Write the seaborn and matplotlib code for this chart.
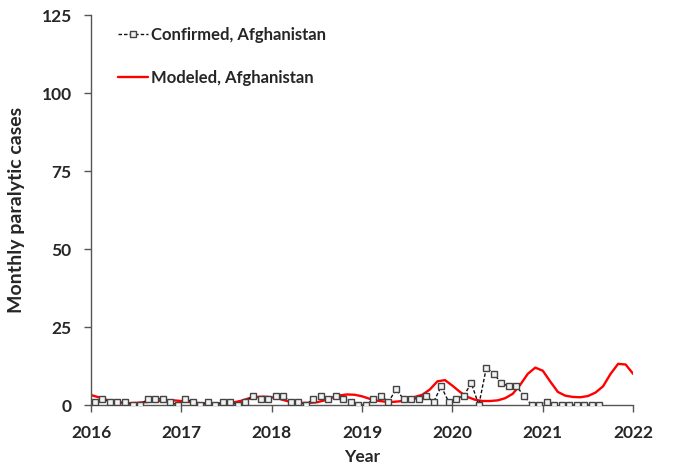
import numpy as np
import pandas as pd
import matplotlib
matplotlib.use("Agg")
import matplotlib.pyplot as plt
import seaborn as sns

# Confirmed monthly paralytic cases, Jan 2016 – Aug 2021
confirmed_2016 = [1, 2, 1, 1, 1, 0, 0, 2, 2, 2, 1, 0]
confirmed_2017 = [2, 1, 0, 1, 0, 1, 1, 0, 1, 3, 2, 2]
confirmed_2018 = [3, 3, 1, 1, 0, 2, 3, 2, 3, 2, 1, 0]
confirmed_2019 = [0, 2, 3, 1, 5, 2, 2, 2, 3, 1, 6, 1]
confirmed_2020 = [2, 3, 7, 0, 12, 10, 7, 6, 6, 3, 0, 0]
confirmed_2021 = [1, 0, 0, 0, 0, 0, 0, 0]

# Modeled monthly paralytic cases, Jan 2016 – Jan 2022
modeled = [
    3.2, 2.5, 1.7, 1.1, 0.7, 0.6, 0.7, 0.9, 1.1, 1.3, 1.5, 1.5,
    1.3, 1.0, 0.7, 0.5, 0.5, 0.5, 0.6, 0.9, 1.4, 2.2, 2.6, 2.7,
    2.5, 2.0, 1.3, 0.9, 0.7, 0.7, 0.9, 1.5, 2.4, 3.1, 3.4, 3.3,
    2.8, 2.0, 1.4, 1.1, 1.0, 1.2, 1.8, 2.6, 3.3, 5.0, 7.6, 8.0,
    6.2, 4.2, 2.6, 1.7, 1.3, 1.3, 1.5, 2.2, 3.6, 6.5, 10.0, 12.0,
    11.0, 7.5, 4.2, 3.0, 2.6, 2.5, 2.9, 4.0, 6.0, 10.0, 13.2, 13.0,
    10.0,
]

year_ticks = [2016, 2017, 2018, 2019, 2020, 2021, 2022]
case_ticks = [0, 25, 50, 75, 100, 125]

confirmed = (confirmed_2016 + confirmed_2017 + confirmed_2018 +
             confirmed_2019 + confirmed_2020 + confirmed_2021)
conf_df = pd.DataFrame({
    "year": 2016 + (np.arange(len(confirmed)) + 0.5) / 12,
    "cases": confirmed,
})
model_df = pd.DataFrame({
    "year": 2016 + np.arange(len(modeled)) / 12,
    "cases": modeled,
})

sns.set_style("ticks")
plt.rcParams["font.family"] = ["Lato", "DejaVu Sans"]
plt.rcParams["font.weight"] = "bold"

fig = plt.figure(figsize=(6.75, 4.71), dpi=100)
ax = fig.add_axes([0.135, 0.140, 0.803, 0.828])

sns.lineplot(data=conf_df, x="year", y="cases", ax=ax, color="#111111",
             linestyle=(0, (2.5, 1.5)), linewidth=1.0, marker="s",
             markersize=3.8, markerfacecolor="#f2f2f2",
             markeredgecolor="#444444", markeredgewidth=1.0,
             label="Confirmed, Afghanistan", zorder=3)
sns.lineplot(data=model_df, x="year", y="cases", ax=ax, color="#ff0000",
             linewidth=1.7, label="Modeled, Afghanistan", zorder=2)

ax.set_xlim(2016, 2022)
ax.set_ylim(0, 125)
ax.set_xticks(year_ticks)
ax.set_yticks(case_ticks)
ax.tick_params(axis="both", labelsize=12.5, length=5, width=1,
               color="#555555", direction="out")
ax.tick_params(axis="x", pad=9)
ax.tick_params(axis="y", pad=9)
for lab in ax.get_xticklabels() + ax.get_yticklabels():
    lab.set_fontweight("bold")
ax.set_xlabel("Year", fontsize=12.5, fontweight="bold", labelpad=6)
ax.set_ylabel("Monthly paralytic cases", fontsize=14, fontweight="bold",
              labelpad=12)
for side in ("top", "right"):
    ax.spines[side].set_visible(False)
for side in ("left", "bottom"):
    ax.spines[side].set_color("#555555")
    ax.spines[side].set_linewidth(1.0)

leg = ax.legend(loc="upper left", bbox_to_anchor=(0.031, 0.995), frameon=False,
                fontsize=12, handlelength=1.8, handletextpad=0.2,
                labelspacing=1.6, borderaxespad=0.2)
for t in leg.get_texts():
    t.set_fontweight("bold")

fig.savefig("out.png", dpi=100)
